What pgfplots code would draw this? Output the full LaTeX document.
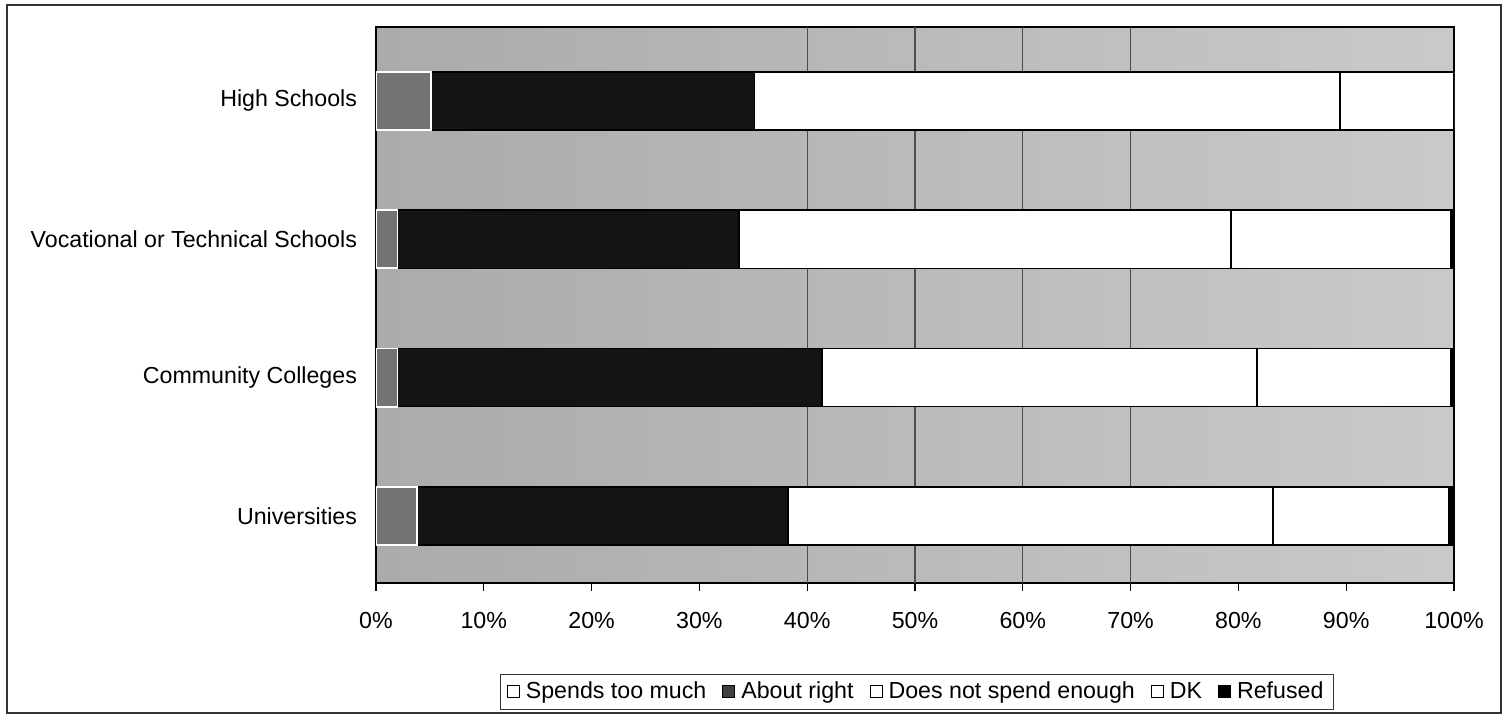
\documentclass[border=0pt]{standalone}
\usepackage{pgfplots}
\pgfplotsset{compat=1.18}
\usepackage{fontspec}
\setmainfont{Liberation Sans}

% shares, rows top to bottom:
% High Schools, Vocational or Technical Schools, Community Colleges, Universities
\pgfplotstableread{
y  much  right  notenough  dk    refused
0  5.1   30.0   54.3       10.6  0.0
1  2.0   31.7   45.6       20.4  0.3
2  2.0   39.4   40.3       18.0  0.3
3  3.8   34.4   45.0       16.3  0.5
}\spending

\begin{document}
\begin{tikzpicture}
\useasboundingbox (0,0) rectangle (754.5bp,361.5bp);
\draw[line width=0.7pt, black!80] (3.5bp,5bp) rectangle (750.5bp,359bp);
\begin{axis}[
    at={(188bp,70bp)}, anchor=south west,
    scale only axis,
    width=539bp, height=278bp,
    xbar stacked,
    bar width=0.42,
    xmin=0, xmax=100,
    ymin=-0.535, ymax=3.485,
    y dir=reverse,
    axis on top=false,
    axis background/.style={left color=black!33, right color=black!21},
    axis line style={line width=0.8pt},
    xtick pos=bottom, ytick pos=left,
    xtick={0,10,...,100},
    xticklabels={0\%,10\%,20\%,30\%,40\%,50\%,60\%,70\%,80\%,90\%,100\%},
    ytick={0,1,2,3},
    yticklabels={High Schools,Vocational or Technical Schools,Community Colleges,Universities},
    minor ytick={-0.5,0.5,1.5,2.5,3.5},
    tick align=outside,
    ytick style={draw=none},
    minor tick style={draw=black, line width=0.6pt},
    minor tick length=3bp,
    major tick length=4bp,
    xtick style={line width=0.6pt, black},
    extra x ticks={40,50,60,70},
    extra x tick labels={},
    extra x tick style={grid=major, major grid style={black!70, line width=0.6pt}},
    tick label style={font=\fontsize{11.6bp}{13bp}\selectfont},
    xticklabel style={yshift=-7bp},
    yticklabel style={xshift=-2bp},
    legend style={
        at={(0.502,-0.196)}, anchor=center,
        draw=black!80, line width=0.6pt,
        font=\fontsize{11.6bp}{13bp}\selectfont,
        inner xsep=3bp, inner ysep=2bp,
        /tikz/every even column/.append style={column sep=6bp},
        /tikz/every odd column/.append style={column sep=1bp},
    },
    legend columns=-1,
    legend image code/.code={
        \draw[#1, line width=0.5pt] (0bp,-3bp) rectangle (6bp,3bp);
    },
]
\addplot[fill=black!55, draw=white, line width=0.9pt, forget plot]
    table[x=much, y=y] {\spending};
\addplot[fill=black!92, draw=black, line width=0.8pt, forget plot]
    table[x=right, y=y] {\spending};
\addplot[fill=white, draw=black, line width=0.8pt, forget plot]
    table[x=notenough, y=y] {\spending};
\addplot[fill=white, draw=black, line width=0.8pt, forget plot]
    table[x=dk, y=y] {\spending};
\addplot[fill=black, draw=black, line width=0.8pt, forget plot]
    table[x=refused, y=y] {\spending};

\addlegendimage{fill=white, draw=black}
\addlegendentry{Spends too much}
\addlegendimage{fill=black!75, draw=black}
\addlegendentry{About right}
\addlegendimage{fill=white, draw=black}
\addlegendentry{Does not spend enough}
\addlegendimage{fill=white, draw=black}
\addlegendentry{DK}
\addlegendimage{fill=black, draw=black}
\addlegendentry{Refused}
\end{axis}
\end{tikzpicture}
\end{document}
